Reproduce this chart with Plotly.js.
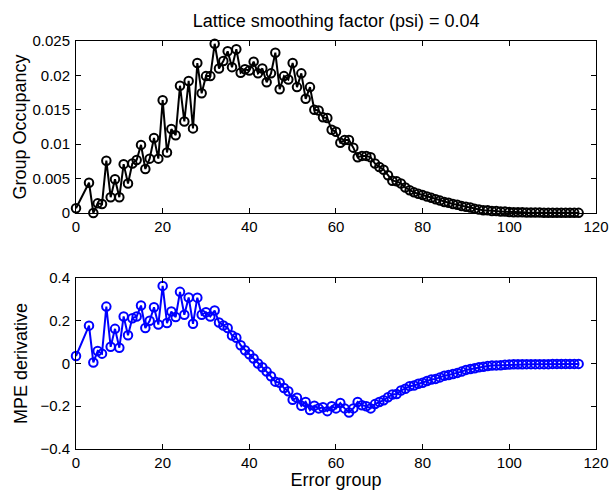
<!DOCTYPE html>
<html>
<head>
<meta charset="utf-8">
<script src="https://cdn.plot.ly/plotly-3.0.1.min.js"></script>
<style>html,body{margin:0;padding:0;background:#fff;}#chart{width:610px;height:490px;}</style>
</head>
<body>
<div id="chart"></div>
<script>
const errorGroup = [0,3,4,5,6,7,8,9,10,11,12,13,14,15,16,17,18,19,20,21,22,23,24,25,26,27,28,29,30,31,32,33,34,35,36,37,38,39,40,41,42,43,44,45,46,47,48,49,50,51,52,53,54,55,56,57,58,59,60,61,62,63,64,65,66,67,68,69,70,71,72,73,74,75,76,77,78,79,80,81,82,83,84,85,86,87,88,89,90,91,92,93,94,95,96,97,98,99,100,101,102,103,104,105,106,107,108,109,110,111,112,113,114,115,116];

const groupOccupancy = [0.0007,0.0044,0.0000,0.0014,0.0013,0.0076,0.0023,0.0049,0.0023,0.0071,0.0043,0.0072,0.0077,0.0099,0.0064,0.0079,0.0109,0.0079,0.0164,0.0088,0.0122,0.0113,0.0185,0.0133,0.0192,0.0123,0.0218,0.0174,0.0199,0.0199,0.0246,0.0210,0.0221,0.0235,0.0212,0.0238,0.0204,0.0209,0.0207,0.0220,0.0203,0.0210,0.0190,0.0203,0.0233,0.0180,0.0199,0.0194,0.0218,0.0183,0.0203,0.0166,0.0183,0.0150,0.0149,0.0139,0.0138,0.0121,0.0118,0.0102,0.0106,0.0106,0.0095,0.0081,0.0083,0.0083,0.0081,0.0072,0.0067,0.0063,0.0055,0.0047,0.0046,0.0043,0.0037,0.0033,0.0030,0.0028,0.0026,0.0024,0.0022,0.0020,0.0018,0.0016,0.0015,0.0013,0.0012,0.0010,0.0009,0.0008,0.0006,0.0005,0.0004,0.0004,0.0003,0.0003,0.0002,0.0002,0.00015,0.00012,0.0001,0.0001,0.00008,0.00008,0.00006,0.00006,0.00005,0.00005,0.00004,0.00004,0.00003,0.00003,0.00003,0.00002,0.00002];

const mpeDerivative = [0.035,0.177,0.005,0.058,0.046,0.266,0.078,0.162,0.074,0.220,0.132,0.212,0.220,0.271,0.166,0.200,0.263,0.182,0.363,0.189,0.243,0.217,0.335,0.228,0.309,0.186,0.308,0.228,0.240,0.220,0.248,0.192,0.178,0.166,0.131,0.120,0.085,0.062,0.043,0.023,0.000,-0.018,-0.038,-0.060,-0.085,-0.090,-0.115,-0.130,-0.170,-0.160,-0.198,-0.180,-0.218,-0.198,-0.210,-0.205,-0.223,-0.200,-0.210,-0.185,-0.210,-0.229,-0.210,-0.180,-0.195,-0.200,-0.210,-0.190,-0.180,-0.172,-0.158,-0.145,-0.143,-0.126,-0.118,-0.106,-0.103,-0.095,-0.090,-0.082,-0.075,-0.072,-0.065,-0.057,-0.054,-0.049,-0.044,-0.038,-0.030,-0.026,-0.022,-0.018,-0.015,-0.012,-0.010,-0.009,-0.008,-0.006,-0.005,-0.004,-0.004,-0.004,-0.003,-0.003,-0.003,-0.003,-0.003,-0.003,-0.002,-0.002,-0.002,-0.002,-0.002,-0.002,-0.002];

const xTicks = [0,20,40,60,80,100,120];
const yTopTicks = [0,0.005,0.01,0.015,0.02,0.025];
const yTopLabels = ['0','0.005','0.01','0.015','0.02','0.025'];
const yBotTicks = [-0.4,-0.2,0,0.2,0.4];
const yBotLabels = ['\u22120.4','\u22120.2','0','0.2','0.4'];

const FONT = 'Liberation Sans, Arial, sans-serif';
const LABEL_FONT = {family: FONT, size: 18, color: '#000'};

const traces = [
  {
    x: errorGroup, y: groupOccupancy, type: 'scatter', mode: 'lines+markers',
    xaxis: 'x', yaxis: 'y',
    line: {color: '#000000', width: 2},
    marker: {symbol: 'circle-open', size: 8.5, color: '#000000', line: {width: 2, color: '#000000'}},
    showlegend: false, cliponaxis: false
  },
  {
    x: errorGroup, y: mpeDerivative, type: 'scatter', mode: 'lines+markers',
    xaxis: 'x2', yaxis: 'y2',
    line: {color: '#0000ff', width: 2},
    marker: {symbol: 'circle-open', size: 8.5, color: '#0000ff', line: {width: 2, color: '#0000ff'}},
    showlegend: false, cliponaxis: false
  }
];

const axCommon = {
  showgrid: false, zeroline: false, showline: true, linecolor: '#000', linewidth: 1,
  mirror: 'ticks', ticks: 'inside', ticklen: 5, tickcolor: '#000', tickwidth: 1,
  tickfont: {family: FONT, size: 15, color: '#000'}
};

const layout = {
  width: 610, height: 490,
  margin: {l: 0, r: 0, t: 0, b: 0},
  paper_bgcolor: '#fff', plot_bgcolor: '#fff',
  font: {family: FONT, size: 15, color: '#000'},
  title: {text: 'Lattice smoothing factor (psi) = 0.04', font: LABEL_FONT,
          x: 0.551, xanchor: 'center', y: 0.958, yanchor: 'middle'},
  xaxis: Object.assign({}, axCommon, {domain: [0.1246, 0.977], range: [0, 120], tickvals: xTicks, anchor: 'y'}),
  yaxis: Object.assign({}, axCommon, {domain: [0.5653, 0.9163], range: [0, 0.025], tickvals: yTopTicks, ticktext: yTopLabels, anchor: 'x',
          ticklabelstandoff: 2,
          title: {text: 'Group Occupancy', font: LABEL_FONT, standoff: 1}}),
  xaxis2: Object.assign({}, axCommon, {domain: [0.1246, 0.977], range: [0, 120], tickvals: xTicks, anchor: 'y2',
          title: {text: 'Error group', font: LABEL_FONT, standoff: 2}}),
  yaxis2: Object.assign({}, axCommon, {domain: [0.0837, 0.4327], range: [-0.4, 0.4], tickvals: yBotTicks, ticktext: yBotLabels, anchor: 'x2',
          ticklabelstandoff: 2,
          title: {text: 'MPE derivative', font: LABEL_FONT, standoff: 8}})
};

Plotly.newPlot('chart', traces, layout, {displayModeBar: false, staticPlot: true});
</script>
</body>
</html>
